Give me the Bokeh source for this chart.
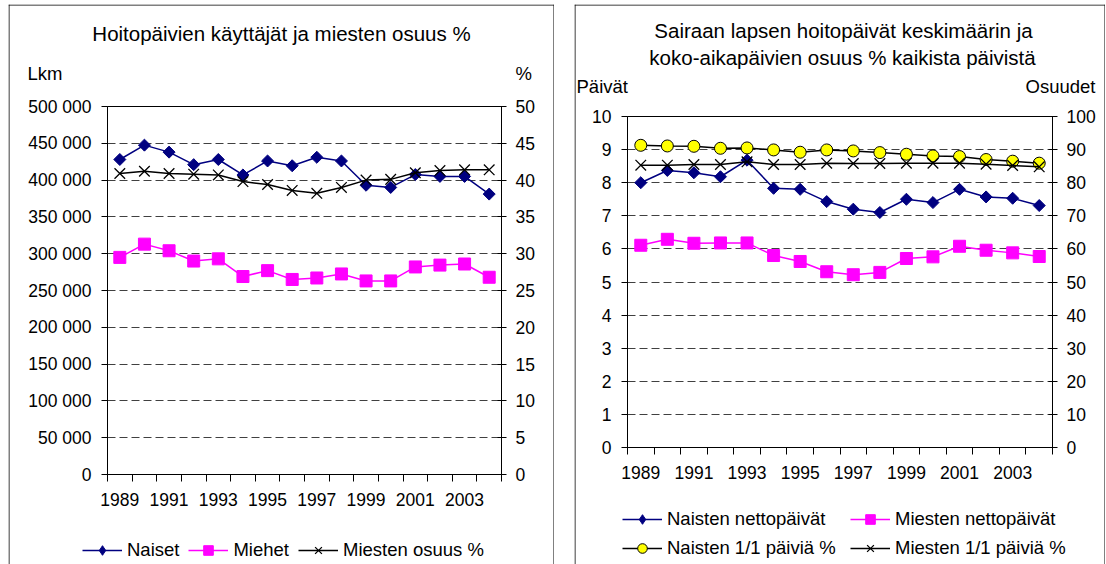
import numpy as np
from bokeh.plotting import figure
from bokeh.models import (Range1d, LinearAxis, FixedTicker, Legend, LegendItem,
                          CustomJSTickFormatter, Spacer, GridBox)
from bokeh.core.properties import value
from bokeh.layouts import row, column
from bokeh.embed import file_html
from bokeh.resources import INLINE

# ---------------- data ----------------
years = list(range(1989, 2005))
label_years = [1989, 1991, 1993, 1995, 1997, 1999, 2001, 2003]
year_labels = ["1989", "1991", "1993", "1995", "1997", "1999", "2001", "2003"]

# left chart
naiset = [428000, 447500, 438000, 421000, 428000, 407000, 426000, 419500,
          431000, 426000, 393000, 390000, 407500, 405000, 405000, 381000]
miehet = [295000, 313000, 304000, 290000, 293000, 269000, 277000, 265000,
          267000, 272500, 263000, 263000, 282000, 284500, 286000, 268000]
miesten_osuus = [40.9, 41.2, 40.9, 40.8, 40.7, 39.8, 39.4, 38.6,
                 38.2, 39.0, 40.0, 40.1, 41.0, 41.3, 41.4, 41.4]
left_ticks = [0, 50000, 100000, 150000, 200000, 250000, 300000, 350000, 400000, 450000, 500000]
pct_ticks_left = [0, 5, 10, 15, 20, 25, 30, 35, 40, 45, 50]

# right chart
naisten_netto = [8.00, 8.37, 8.30, 8.18, 8.68, 7.83, 7.80, 7.43,
                 7.20, 7.10, 7.50, 7.40, 7.80, 7.57, 7.53, 7.31]
miesten_netto = [6.11, 6.29, 6.17, 6.18, 6.18, 5.80, 5.62, 5.31,
                 5.22, 5.29, 5.71, 5.76, 6.08, 5.96, 5.88, 5.77]
naisten_11 = [91.3, 91.1, 91.0, 90.4, 90.5, 89.9, 89.2, 89.9,
              89.6, 89.1, 88.6, 88.1, 87.9, 87.0, 86.5, 85.9]
miesten_11 = [85.3, 85.3, 85.5, 85.5, 86.3, 85.5, 85.5, 85.9,
              85.8, 85.8, 85.9, 85.9, 85.9, 85.6, 85.2, 84.8]
right_ticks = [0, 1, 2, 3, 4, 5, 6, 7, 8, 9, 10]
pct_ticks_right = [0, 10, 20, 30, 40, 50, 60, 70, 80, 90, 100]

title_left = "Hoitopäivien käyttäjät ja miesten osuus %"
title_right = ["Sairaan lapsen hoitopäivät keskimäärin ja",
               "koko-aikapäivien osuus % kaikista päivistä"]
names_left = ["Naiset", "Miehet", "Miesten osuus %"]
names_right = ["Naisten nettopäivät", "Miesten nettopäivät",
               "Naisten 1/1 päiviä %", "Miesten 1/1 päiviä %"]

FONT = "Liberation Sans"
NAVY = "#000080"
MAGENTA = "#FF00FF"
YELLOW = "#FFFF00"
GRID = "#404040"

boundaries = [y - 0.5 for y in years] + [years[-1] + 0.5]

# series styles (shared by plot marks and legend samples)
STY_NAVY = (dict(line_color=NAVY, line_width=1.5),
            dict(marker="square", angle=np.pi / 4, size=8.5, fill_color=NAVY, line_color=NAVY))
STY_MAG = (dict(line_color=MAGENTA, line_width=1.5),
           dict(marker="square", size=12, fill_color=MAGENTA, line_color=MAGENTA))
STY_X = (dict(line_color="black", line_width=1.5),
         dict(marker="x", size=15, line_color="black", line_width=1.3))
STY_CIRC = (dict(line_color="black", line_width=1.5),
            dict(marker="circle", size=12, fill_color=YELLOW, line_color="black", line_width=1))
# legend sample for the navy series (legend glyphs ignore marker rotation)
STY_NAVY_LEG = (STY_NAVY[0], dict(marker="diamond", size=12, fill_color=NAVY, line_color=NAVY))


def make_main(width, height, y_range, extra_range, left, right, top, bottom):
    p = figure(width=width, height=height, x_range=Range1d(years[0] - 0.5, years[-1] + 0.5),
               y_range=y_range, output_backend="svg", toolbar_location=None,
               min_border_left=left, min_border_right=right, min_border_top=top,
               min_border_bottom=bottom, frame_align=False)
    p.extra_y_ranges = {"pct": extra_range}
    p.outline_line_color = "black"
    p.outline_line_width = 1
    p.background_fill_color = None
    p.border_fill_color = None
    p.xgrid.visible = False
    p.ygrid.grid_line_color = GRID
    p.ygrid.grid_line_dash = "8 4"
    p.ygrid.grid_line_width = 1

    xa = p.xaxis[0]
    xa.ticker = FixedTicker(ticks=label_years, minor_ticks=boundaries)
    xa.major_label_overrides = dict(zip(label_years, year_labels))
    xa.major_tick_line_color = None
    xa.major_tick_out = 7
    xa.major_tick_in = 0
    xa.minor_tick_line_color = "black"
    xa.minor_tick_out = 7
    xa.minor_tick_in = 0
    xa.major_label_standoff = 11
    xa.axis_line_color = "black"
    xa.major_label_text_font = FONT
    xa.major_label_text_font_size = "17.5px"
    xa.major_label_text_color = "black"
    return p


def style_yaxis(ax, ticks, out, inn, standoff):
    ax.ticker = FixedTicker(ticks=ticks)
    ax.major_tick_out = out
    ax.major_tick_in = inn
    ax.minor_tick_line_color = None
    ax.major_tick_line_color = "black"
    ax.axis_line_color = "black"
    ax.major_label_standoff = standoff
    ax.major_label_text_font = FONT
    ax.major_label_text_font_size = "17.5px"
    ax.major_label_text_color = "black"


def make_bg(width, height):
    # background layer: chart frame border, texts and legend
    b = figure(width=width, height=height, x_range=Range1d(0, width), y_range=Range1d(height, 0),
               output_backend="svg", toolbar_location=None, x_axis_type=None, y_axis_type=None,
               min_border=0, min_border_left=0, min_border_right=0, min_border_top=0,
               min_border_bottom=0, frame_align=False)
    b.grid.visible = False
    b.outline_line_color = None
    b.background_fill_color = "white"
    b.border_fill_color = "white"
    b.segment(x0=[0.5, width - 0.5, 0], y0=[0, 0, 0.5], x1=[0.5, width - 0.5, width],
              y1=[height, height, 0.5], line_color="black", line_width=1)
    return b


def add_texts(b, xs, ys, texts, align, size):
    b.text(x=xs, y=ys, text=texts, text_font=value(FONT), text_font_size=size,
           text_align=align, text_baseline="middle", text_color="black")


def legend_items(b, names, styles, series):
    # legend samples: the series drawn on the background layer fall outside its
    # pixel-sized ranges, so only their legend glyphs are visible
    items = []
    for name, (lsty, msty), ys in zip(names, styles, series):
        lr = b.line(years, ys, **lsty)
        mr = b.scatter(years, ys, **msty)
        items.append(LegendItem(label=value(name), renderers=[lr, mr]))
    return items


LEG = dict(glyph_width=40, glyph_height=24, label_height=24, label_standoff=5, padding=0,
           margin=0, border_line_color=None, background_fill_alpha=0,
           label_text_font=FONT, label_text_font_size="18.5px", label_text_color="black")

# ---------------- left chart ----------------
W1, W2, H = 546, 531, 560
bg1 = make_bg(W1, H)
add_texts(bg1, [273], [29], [title_left], "center", "20.5px")
add_texts(bg1, [19, 507], [69, 69], ["Lkm", "%"], "left", "18.5px")
bg1.add_layout(Legend(items=legend_items(bg1, names_left, [STY_NAVY_LEG, STY_MAG, STY_X],
                                         [naiset, miehet, miesten_osuus]),
                      orientation="horizontal", location=(74, 2), spacing=9, **LEG))

p1 = make_main(W1, H, Range1d(0, 500000), Range1d(0, 50), 99, 53, 102, 90)
ly = p1.yaxis[0]
style_yaxis(ly, left_ticks, 6, 0, 10)
ly.formatter = CustomJSTickFormatter(
    code="return tick.toFixed(0).replace(/\\B(?=(\\d{3})+(?!\\d))/g, ' ');")
ry = LinearAxis(y_range_name="pct")
style_yaxis(ry, pct_ticks_left, 5, 4, 9)
p1.add_layout(ry, "right")

p1.line(years, naiset, **STY_NAVY[0])
p1.scatter(years, naiset, **STY_NAVY[1])
p1.line(years, miehet, **STY_MAG[0])
p1.scatter(years, miehet, **STY_MAG[1])
p1.line(years, miesten_osuus, y_range_name="pct", **STY_X[0])
p1.scatter(years, miesten_osuus, y_range_name="pct", **STY_X[1])

# ---------------- right chart ----------------
bg2 = make_bg(W2, H)
add_texts(bg2, [269, 268], [26, 53], title_right, "center", "20.5px")
add_texts(bg2, [2], [82], ["Päivät"], "left", "18.5px")
add_texts(bg2, [521], [82], ["Osuudet"], "right", "18.5px")
bg2.add_layout(Legend(items=legend_items(bg2, names_right,
                                         [STY_NAVY_LEG, STY_MAG, STY_CIRC, STY_X],
                                         [naisten_netto, miesten_netto, naisten_11, miesten_11]),
                      orientation="horizontal", ncols=2, location=(48, 4), spacing=5,
                      label_width=178, **LEG))

p2 = make_main(W2, H, Range1d(0, 10), Range1d(0, 100), 53, 53, 112, 117)
ly2 = p2.yaxis[0]
style_yaxis(ly2, right_ticks, 6, 0, 10)
ry2 = LinearAxis(y_range_name="pct")
style_yaxis(ry2, pct_ticks_right, 5, 4, 9)
p2.add_layout(ry2, "right")

p2.line(years, naisten_netto, **STY_NAVY[0])
p2.scatter(years, naisten_netto, **STY_NAVY[1])
p2.line(years, miesten_netto, **STY_MAG[0])
p2.scatter(years, miesten_netto, **STY_MAG[1])
p2.line(years, naisten_11, y_range_name="pct", **STY_CIRC[0])
p2.scatter(years, naisten_11, y_range_name="pct", **STY_CIRC[1])
p2.line(years, miesten_11, y_range_name="pct", **STY_X[0])
p2.scatter(years, miesten_11, y_range_name="pct", **STY_X[1])

gb1 = GridBox(children=[(bg1, 0, 0), (p1, 0, 0)])
gb2 = GridBox(children=[(bg2, 0, 0), (p2, 0, 0)])

layout = column(Spacer(width=1105, height=4),
                row(Spacer(width=8, height=H), gb1, Spacer(width=20, height=H), gb2))

open("out.html", "w").write(file_html(layout, INLINE))
